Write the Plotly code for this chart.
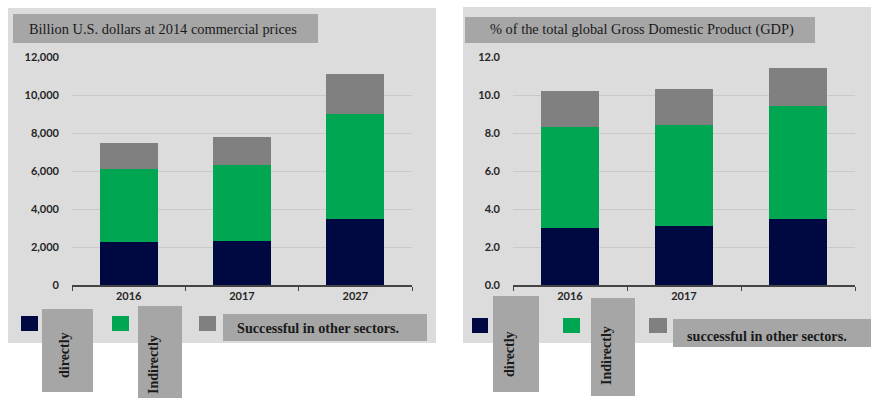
import plotly.graph_objects as go

# Travel & tourism contribution, two views
years_usd = ["2016", "2017", "2027"]
years_gdp = ["2016", "2017", "2027"]
gdp_tick_text = ["2016", "2017", ""]

usd_direct = [2250, 2300, 3500]
usd_indirect = [3850, 4000, 5500]
usd_other = [1400, 1500, 2100]

gdp_direct = [3.0, 3.1, 3.5]
gdp_indirect = [5.3, 5.3, 5.9]
gdp_other = [1.9, 1.9, 2.0]

usd_title = "Billion U.S. dollars at 2014 commercial prices"
gdp_title = "% of the total global Gross Domestic Product (GDP)"
label_direct = "directly"
label_indirect = "Indirectly"
label_other_usd = "Successful in other sectors."
label_other_gdp = "successful in other sectors."

W, H = 871, 398
NAVY = "#000842"
GREEN = "#00a651"
GRAY = "#808080"
PANEL = "#dcdcdc"
BOX = "#a6a6a6"


def px(x):
    return x / W


def py(y):
    return 1 - y / H


fig = go.Figure()

series = [
    (usd_direct, gdp_direct, NAVY),
    (usd_indirect, gdp_indirect, GREEN),
    (usd_other, gdp_other, GRAY),
]
for usd_vals, gdp_vals, color in series:
    fig.add_trace(go.Bar(x=years_usd, y=usd_vals, marker=dict(color=color, line=dict(width=0)),
                         xaxis="x", yaxis="y", showlegend=False))
    fig.add_trace(go.Bar(x=years_gdp, y=gdp_vals, marker=dict(color=color, line=dict(width=0)),
                         xaxis="x2", yaxis="y2", showlegend=False))

tick_font = dict(family="Lato", size=11, color="#262626", weight="bold")
common_x = dict(type="category", showgrid=False, showline=True, linecolor="#444444", linewidth=1.5,
                ticks="outside", tickson="boundaries", ticklen=4, tickcolor="#444444",
                tickfont=tick_font, fixedrange=True, automargin=False)
common_y = dict(showgrid=True, gridcolor="#c9c9c9", gridwidth=1, zeroline=False, showline=False,
                tickfont=tick_font, ticklabelstandoff=12, fixedrange=True, automargin=False)

fig.update_layout(
    width=W, height=H,
    margin=dict(l=0, r=0, t=0, b=0, pad=0, autoexpand=False),
    paper_bgcolor="white", plot_bgcolor="rgba(0,0,0,0)",
    barmode="stack", bargap=0.49,
    xaxis=dict(domain=[px(72), px(412)], anchor="y", **common_x),
    yaxis=dict(domain=[py(285), py(57)], anchor="x", range=[0, 12000], dtick=2000,
               tickformat=",d", **common_y),
    xaxis2=dict(domain=[px(513), px(855)], anchor="y2", tickvals=years_gdp, ticktext=gdp_tick_text,
                **common_x),
    yaxis2=dict(domain=[py(285), py(57)], anchor="x2", range=[0, 12], dtick=2,
                tickformat=".1f", **common_y),
)

shapes = []


def rect(x0, y0, x1, y1, color, layer="below"):
    shapes.append(dict(type="rect", xref="paper", yref="paper", x0=px(x0), x1=px(x1),
                       y0=py(y1), y1=py(y0), fillcolor=color, line=dict(width=0), layer=layer))


# panel backgrounds
rect(8, 8, 436, 343, PANEL)
rect(463, 7, 871, 343, PANEL)
# title boxes
rect(13, 14, 318, 43, BOX)
rect(465, 17, 815, 43, BOX)
# legend swatches
rect(21, 316, 38, 331, NAVY, "above")
rect(112, 316, 129, 331, GREEN, "above")
rect(199, 316, 216, 331, GRAY, "above")
rect(472, 318, 488, 333, NAVY, "above")
rect(563, 318, 580, 333, GREEN, "above")
rect(649, 318, 667, 333, GRAY, "above")
# legend label boxes
rect(42, 309, 93, 392, BOX, "above")
rect(138, 306, 182, 398, BOX, "above")
rect(223, 314, 427, 341, BOX, "above")
rect(493, 296, 539, 392, BOX, "above")
rect(591, 298, 635, 396, BOX, "above")
rect(673, 319, 871, 347, BOX, "above")
fig.update_layout(shapes=shapes)

serif = "Liberation Serif"
anns = []


def text(t, x, y, size, bold=False, angle=0, xanchor="center"):
    anns.append(dict(text=t, xref="paper", yref="paper",
                     x=px(x), y=py(y), xanchor=xanchor, yanchor="middle", showarrow=False,
                     textangle=angle,
                     font=dict(family=serif, size=size, color="#1a1a1a",
                               weight="bold" if bold else "normal")))


text(usd_title, 27, 29, 14.4, xanchor="left")
text(gdp_title, 488, 30, 14.4, xanchor="left")
text(label_direct, 64, 355, 14, bold=True, angle=-90)
text(label_indirect, 153, 365, 14, bold=True, angle=-90)
text(label_other_usd, 318, 328, 14.2, bold=True)
text(label_direct, 509, 354, 14, bold=True, angle=-90)
text(label_indirect, 606, 356, 14, bold=True, angle=-90)
text(label_other_gdp, 767, 336, 14.2, bold=True)
fig.update_layout(annotations=anns)

fig.write_html("out.html")
